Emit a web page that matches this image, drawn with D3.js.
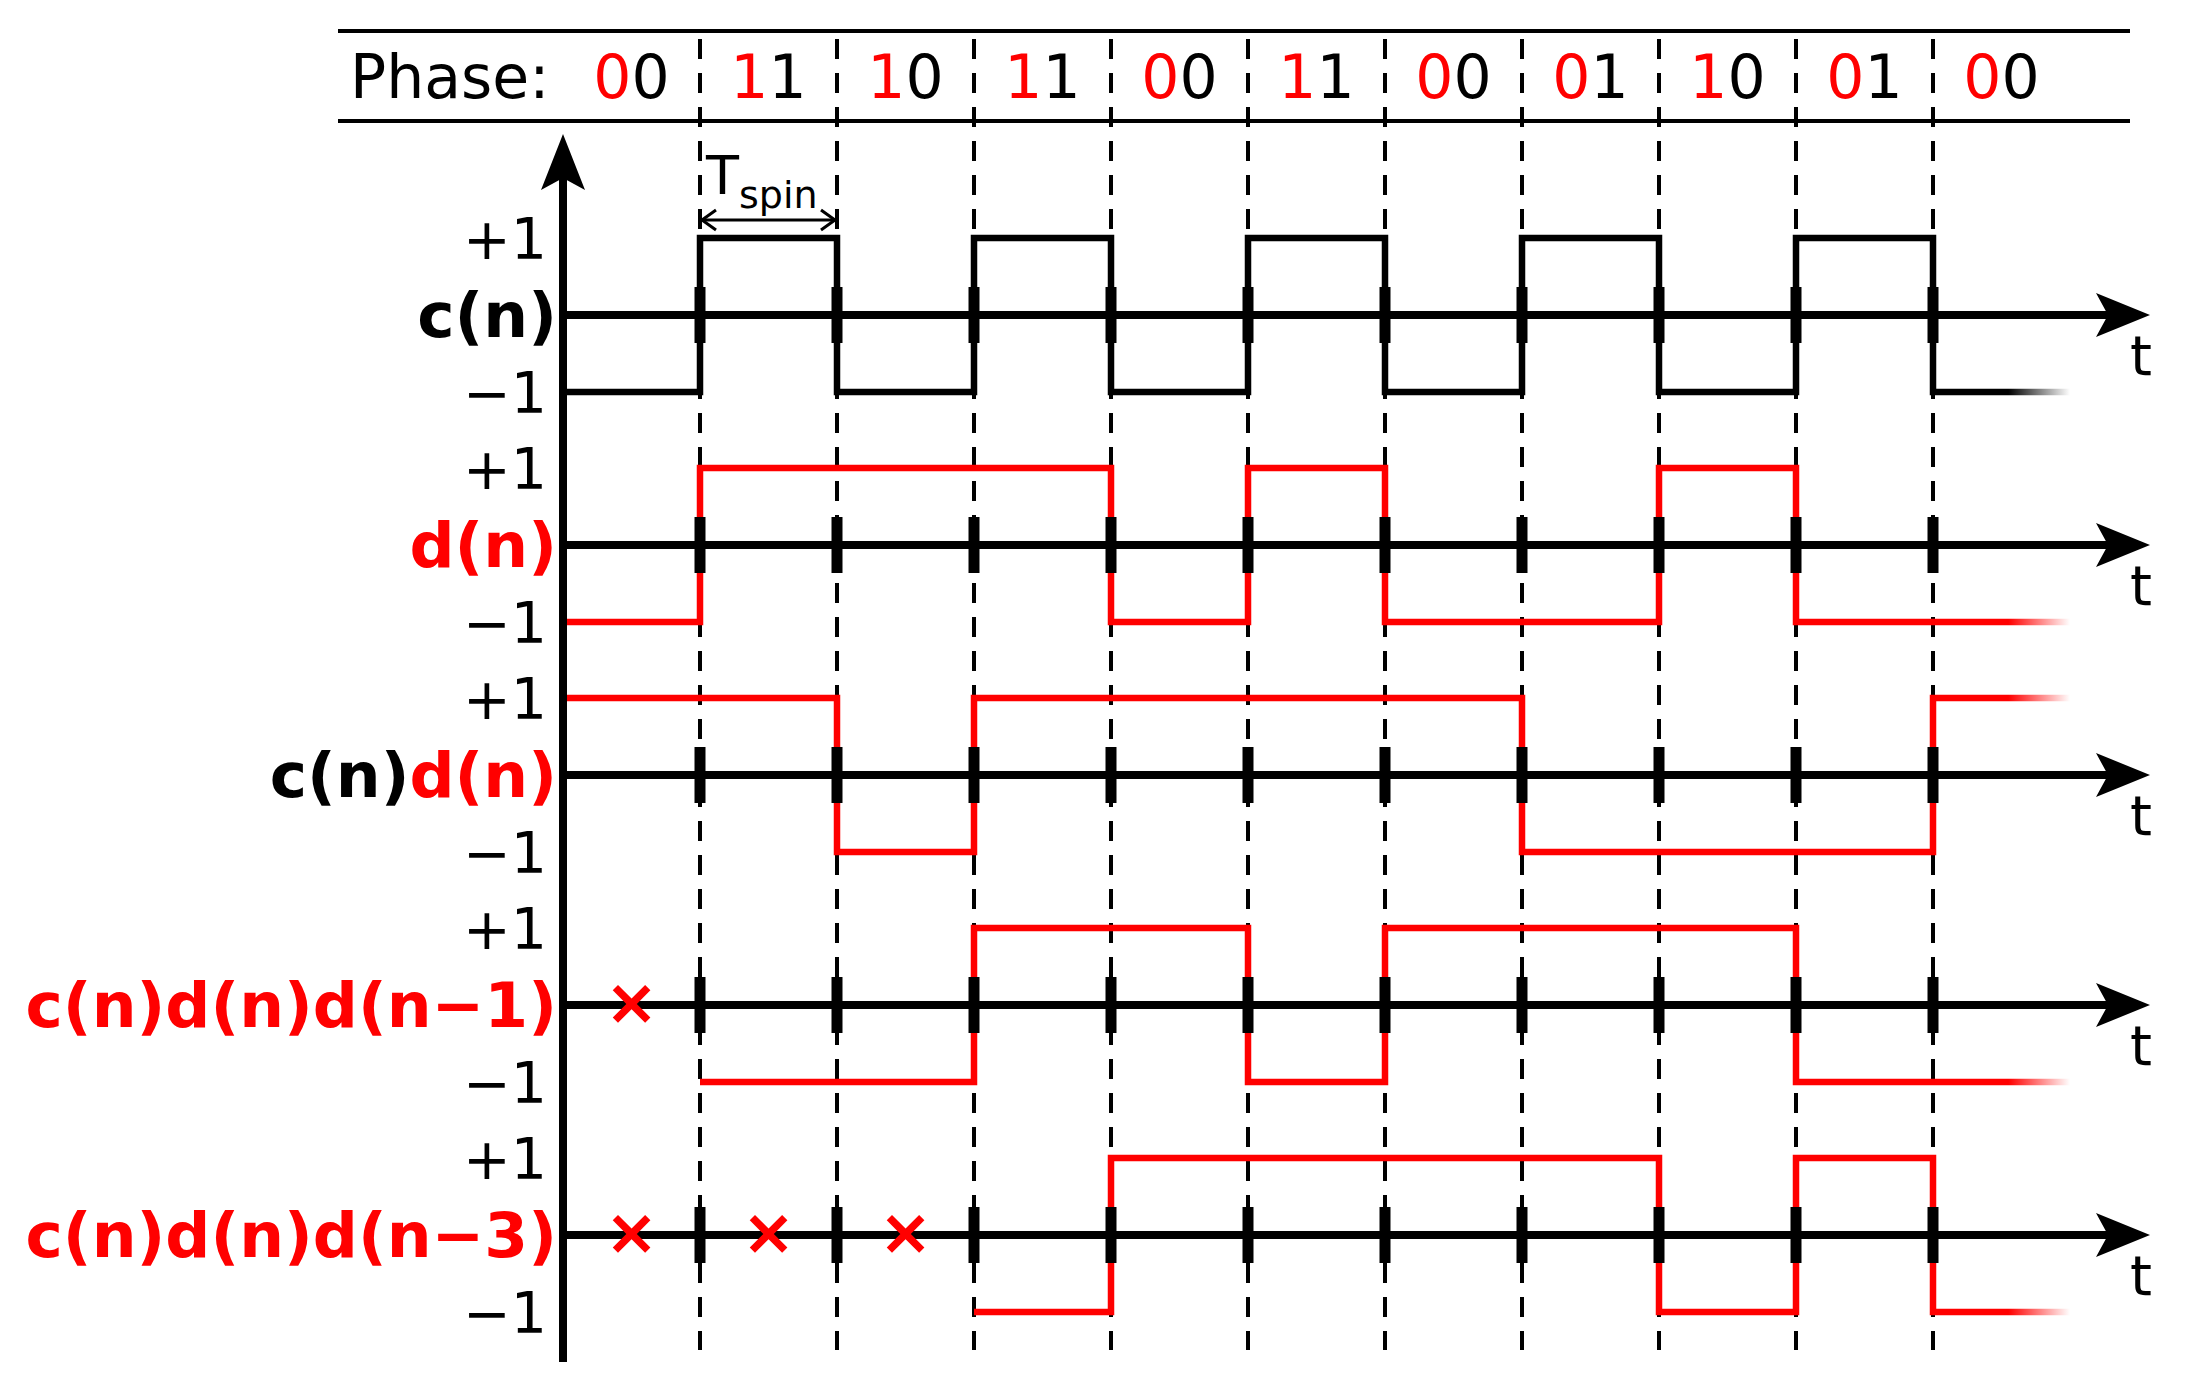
<!DOCTYPE html>
<html><head><meta charset="utf-8">
<script src="https://cdn.jsdelivr.net/npm/d3@7"></script>
<style>body{margin:0;background:#fff}svg{display:block}</style>
</head><body><div id="chart"></div>
<script>
// 資料
const phases = ["00", "11", "10", "11", "00", "11", "00", "01", "10", "01", "00"];
const rowLabels = [
    [["c(n)", "black"]],
    [["d(n)", "red"]],
    [["c(n)", "black"], ["d(n)", "red"]],
    [["c(n)d(n)d(n\u22121)", "red"]],
    [["c(n)d(n)d(n\u22123)", "red"]]
];
const rowColors = ["black", "red", "red", "red", "red"];
// 每個週期的值，null = 未定義 (×)
const cN = [-1, 1, -1, 1, -1, 1, -1, 1, -1, 1, -1];
const dN = [-1, 1, 1, 1, -1, 1, -1, -1, 1, -1, -1];
const cdN = [1, 1, -1, 1, 1, 1, 1, -1, -1, -1, 1];
const cdd1 = [null, -1, -1, 1, 1, -1, 1, 1, 1, -1, -1];
const cdd3 = [null, null, null, -1, 1, 1, 1, 1, -1, 1, -1];
const series = [cN, dN, cdN, cdd1, cdd3];

const W = 2195, H = 1384;
const svg = d3.select("#chart").append("svg").attr("width", W).attr("height", H)
    .style("font-family", "DejaVu Sans");

const x = d3.scaleLinear().domain([0, 11]).range([563, 2070]);
const rowY = d3.scaleLinear().domain([0, 4]).range([315, 1235]);
const amp = 77;

// 漸層遮罩
const defs = svg.append("defs");
const grad = defs.append("linearGradient").attr("id", "fade")
    .attr("gradientUnits", "userSpaceOnUse")
    .attr("x1", x(10.55)).attr("x2", x(11)).attr("y1", 0).attr("y2", 0);
grad.append("stop").attr("offset", 0).attr("stop-color", "white");
grad.append("stop").attr("offset", 1).attr("stop-color", "black");
defs.append("mask").attr("id", "fadeMask").attr("maskUnits", "userSpaceOnUse")
    .append("rect").attr("x", 0).attr("y", 0).attr("width", W).attr("height", H)
    .attr("fill", "url(#fade)");

// 上方 Phase 欄
[31, 121].forEach(y => svg.append("line").attr("x1", 338).attr("x2", 2130)
    .attr("y1", y).attr("y2", y).attr("stroke", "black").attr("stroke-width", 4));
svg.append("text").attr("x", 350).attr("y", 98).attr("font-size", 60).text("Phase:");
phases.forEach((p, i) => {
    const t = svg.append("text").attr("x", x(i + 0.5)).attr("y", 98)
        .attr("font-size", 60).attr("text-anchor", "middle");
    t.append("tspan").attr("fill", "red").text(p[0]);
    t.append("tspan").attr("fill", "black").text(p[1]);
});

// 虛線
d3.range(1, 11).forEach(i => svg.append("line")
    .attr("x1", x(i)).attr("x2", x(i)).attr("y1", 39).attr("y2", 1350)
    .attr("stroke", "black").attr("stroke-width", 4).attr("stroke-dasharray", "20,14"));

// 各列
series.forEach((vals, r) => {
    const y0 = rowY(r);
    // 訊號
    const pts = [];
    vals.forEach((v, i) => {
        if (v === null) return;
        pts.push([x(i), y0 - v * amp], [x(i + 1), y0 - v * amp]);
    });
    svg.append("path").attr("d", d3.line()(pts)).attr("fill", "none")
        .attr("stroke", rowColors[r]).attr("stroke-width", 6.5)
        .attr("mask", "url(#fadeMask)");
    // 時間軸
    svg.append("line").attr("x1", x(0)).attr("x2", 2125).attr("y1", y0).attr("y2", y0)
        .attr("stroke", "black").attr("stroke-width", 8);
    svg.append("path").attr("d", `M2150,${y0} L2096,${y0 - 22} L2108,${y0} L2096,${y0 + 22} Z`)
        .attr("fill", "black");
    svg.append("text").attr("x", 2130).attr("y", y0 + 60).attr("font-size", 56).text("t");
    // 刻度
    d3.range(1, 11).forEach(i => svg.append("line").attr("x1", x(i)).attr("x2", x(i))
        .attr("y1", y0 - 28).attr("y2", y0 + 28).attr("stroke", "black").attr("stroke-width", 11));
    // ×
    vals.forEach((v, i) => {
        if (v !== null) return;
        svg.append("text").attr("x", x(i + 0.5)).attr("y", y0 + 19).attr("font-size", 64)
            .attr("font-weight", "bold").attr("fill", "red").attr("text-anchor", "middle").text("\u00d7");
    });
    // ±1
    svg.append("text").attr("x", 547).attr("y", y0 - amp + 21).attr("font-size", 57)
        .attr("text-anchor", "end").text("+1");
    svg.append("text").attr("x", 547).attr("y", y0 + amp + 21).attr("font-size", 57)
        .attr("text-anchor", "end").text("\u22121");
    // 列標籤
    const lt = svg.append("text").attr("x", 557).attr("y", y0 + 22).attr("font-size", 63)
        .attr("font-weight", "bold").attr("text-anchor", "end");
    rowLabels[r].forEach(([s, c]) => lt.append("tspan").attr("fill", c).text(s));
});

// 縱軸
svg.append("line").attr("x1", x(0)).attr("x2", x(0)).attr("y1", 1362).attr("y2", 170)
    .attr("stroke", "black").attr("stroke-width", 8);
svg.append("path").attr("d", `M${x(0)},134 L${x(0) - 22},190 L${x(0)},178 L${x(0) + 22},190 Z`)
    .attr("fill", "black");

// T_spin
const ay = 220;
svg.append("line").attr("x1", x(1) + 4).attr("x2", x(2) - 4).attr("y1", ay).attr("y2", ay)
    .attr("stroke", "black").attr("stroke-width", 3);
svg.append("path").attr("d", `M${x(1) + 16},${ay - 10} L${x(1) + 2},${ay} L${x(1) + 16},${ay + 10}`)
    .attr("fill", "none").attr("stroke", "black").attr("stroke-width", 3);
svg.append("path").attr("d", `M${x(2) - 16},${ay - 10} L${x(2) - 2},${ay} L${x(2) - 16},${ay + 10}`)
    .attr("fill", "none").attr("stroke", "black").attr("stroke-width", 3);
const ts = svg.append("text").attr("x", x(1) + 6).attr("y", 194).attr("font-size", 54);
ts.append("tspan").text("T");
ts.append("tspan").attr("font-size", 38).attr("dy", 14).text("spin");
</script></body></html>
